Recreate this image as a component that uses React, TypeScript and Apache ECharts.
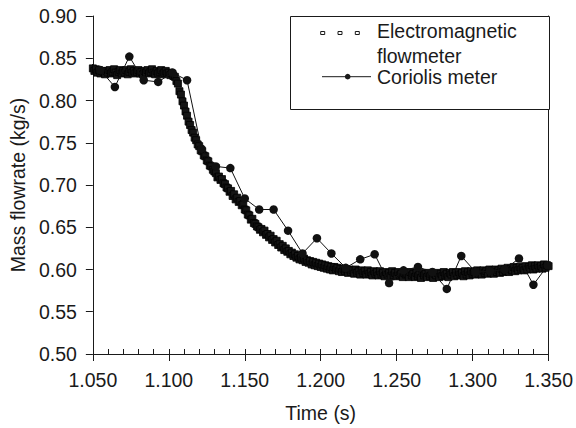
import React, { useEffect, useRef } from "react";
import * as echarts from "echarts";

// Electromagnetic flowmeter: sampled every emStep seconds from emStart
const emStart = 1.05;
const emStep = 0.001;
const emFlow = [
  0.838, 0.835, 0.837, 0.833, 0.836, 0.832, 0.835, 0.834, 0.831, 0.835,
  0.833, 0.836, 0.832, 0.834, 0.837, 0.833, 0.830, 0.834, 0.836, 0.832,
  0.835, 0.833, 0.836, 0.831, 0.834, 0.837, 0.833, 0.835, 0.832, 0.834,
  0.836, 0.832, 0.834, 0.831, 0.835, 0.833, 0.836, 0.832, 0.834, 0.837,
  0.833, 0.831, 0.835, 0.832, 0.834, 0.836, 0.831, 0.833, 0.835, 0.832,
  0.833, 0.830, 0.832, 0.829, 0.828, 0.823, 0.820, 0.811, 0.807, 0.799,
  0.794, 0.787, 0.782, 0.775, 0.771, 0.765, 0.762, 0.756, 0.753, 0.748,
  0.746, 0.741, 0.740, 0.735, 0.734, 0.729, 0.728, 0.723, 0.722, 0.718,
  0.716, 0.714, 0.709, 0.710, 0.706, 0.707, 0.702, 0.701, 0.697, 0.696,
  0.692, 0.693, 0.687, 0.689, 0.683, 0.685, 0.680, 0.681, 0.676, 0.677,
  0.671, 0.670, 0.665, 0.664, 0.659, 0.660, 0.655, 0.654, 0.651, 0.650,
  0.647, 0.648, 0.644, 0.646, 0.641, 0.642, 0.638, 0.640, 0.635, 0.636,
  0.632, 0.634, 0.629, 0.630, 0.626, 0.628, 0.623, 0.625, 0.621, 0.622,
  0.618, 0.620, 0.616, 0.618, 0.614, 0.616, 0.612, 0.614, 0.611, 0.613,
  0.609, 0.611, 0.608, 0.610, 0.606, 0.609, 0.605, 0.608, 0.604, 0.607,
  0.603, 0.606, 0.602, 0.605, 0.601, 0.604, 0.600, 0.603, 0.599, 0.603,
  0.600, 0.602, 0.598, 0.601, 0.597, 0.601, 0.598, 0.600, 0.596, 0.600,
  0.597, 0.599, 0.595, 0.600, 0.596, 0.598, 0.594, 0.599, 0.596, 0.598,
  0.594, 0.599, 0.595, 0.597, 0.593, 0.598, 0.595, 0.597, 0.593, 0.598,
  0.594, 0.596, 0.592, 0.597, 0.594, 0.596, 0.592, 0.598, 0.593, 0.596,
  0.592, 0.597, 0.593, 0.595, 0.591, 0.596, 0.594, 0.595, 0.591, 0.597,
  0.593, 0.595, 0.591, 0.596, 0.592, 0.594, 0.590, 0.596, 0.593, 0.595,
  0.591, 0.596, 0.592, 0.594, 0.590, 0.595, 0.593, 0.596, 0.591, 0.595,
  0.592, 0.597, 0.593, 0.595, 0.591, 0.596, 0.594, 0.597, 0.592, 0.596,
  0.593, 0.597, 0.594, 0.596, 0.592, 0.598, 0.594, 0.597, 0.593, 0.598,
  0.595, 0.597, 0.594, 0.599, 0.595, 0.598, 0.594, 0.599, 0.596, 0.598,
  0.595, 0.600, 0.596, 0.599, 0.595, 0.600, 0.597, 0.599, 0.596, 0.601,
  0.597, 0.600, 0.598, 0.602, 0.597, 0.601, 0.599, 0.603, 0.598, 0.602,
  0.599, 0.603, 0.600, 0.602, 0.599, 0.604, 0.600, 0.603, 0.601, 0.605,
  0.600, 0.604, 0.601, 0.605, 0.602, 0.604, 0.601, 0.606, 0.602, 0.605,
  0.604,
];

// Coriolis meter
const corTime = [
  1.0455, 1.055, 1.0645, 1.074, 1.0835, 1.093, 1.1025, 1.112, 1.1215, 1.131,
  1.1405, 1.15, 1.1595, 1.169, 1.1785, 1.188, 1.1975, 1.207, 1.2165, 1.226,
  1.2355, 1.245, 1.2545, 1.264, 1.2735, 1.283, 1.2925, 1.302, 1.3115, 1.321,
  1.3305, 1.34, 1.3495,
];
const corFlow = [
  0.848, 0.836, 0.816, 0.852, 0.824, 0.822, 0.833, 0.824, 0.743, 0.722,
  0.72, 0.684, 0.671, 0.671, 0.646, 0.619, 0.637, 0.619, 0.602, 0.612,
  0.618, 0.584, 0.599, 0.603, 0.597, 0.577, 0.616, 0.597, 0.598, 0.6,
  0.613, 0.582, 0.605,
];

const xMin = 1.05;
const xMax = 1.35;
const yMin = 0.5;
const yMax = 0.9;

const seriesNames = ["Electromagnetic flowmeter", "Coriolis meter"];
const xTitle = "Time (s)";
const yTitle = "Mass flowrate (kg/s)";

const FONT = "'Liberation Sans', Arial, Helvetica, sans-serif";
const INK = "#1a1a1a";

export default function App() {
  const ref = useRef<HTMLDivElement>(null);

  useEffect(() => {
    if (!ref.current) return;
    const chart = echarts.init(ref.current, undefined, { renderer: "svg" });

    const emData = emFlow.map((v, i) => [
      Math.round((emStart + i * emStep) * 10000) / 10000,
      v,
    ]);
    const corData = corTime.map((t, i) =>
      t < xMin
        ? { value: [t, corFlow[i]], symbol: "none" }
        : { value: [t, corFlow[i]] }
    );

    const labelStyle = { fontFamily: FONT, fontSize: 19.5, color: INK };

    chart.setOption({
      animation: false,
      backgroundColor: "#fff",
      grid: { left: 90, top: 16, right: 26, bottom: 74 },
      xAxis: [
        {
          type: "value",
          min: xMin,
          max: xMax,
          interval: 0.05,
          name: xTitle,
          nameLocation: "middle",
          nameGap: 49,
          nameTextStyle: labelStyle,
          axisLine: { show: true, lineStyle: { color: INK, width: 1 } },
          axisTick: { show: true, inside: false, length: 7, lineStyle: { color: INK } },
          axisLabel: {
            ...labelStyle,
            margin: 16,
            formatter: (v: number) => v.toFixed(3),
          },
          splitLine: { show: false },
        },
        {
          type: "value",
          min: xMin,
          max: xMax,
          interval: 0.01,
          position: "bottom",
          axisLine: { show: false },
          axisTick: { show: true, inside: true, length: 5, lineStyle: { color: INK } },
          axisLabel: { show: false },
          splitLine: { show: false },
        },
      ],
      yAxis: [
        {
          type: "value",
          min: yMin,
          max: yMax,
          interval: 0.05,
          name: yTitle,
          nameLocation: "middle",
          nameGap: 60,
          nameTextStyle: labelStyle,
          axisLine: { show: true, lineStyle: { color: INK, width: 1 } },
          axisTick: { show: true, inside: false, length: 7, lineStyle: { color: INK } },
          axisLabel: {
            ...labelStyle,
            margin: 16,
            formatter: (v: number) => v.toFixed(2),
          },
          splitLine: { show: false },
        },
        {
          type: "value",
          min: yMin,
          max: yMax,
          position: "right",
          axisLine: { show: true, lineStyle: { color: INK, width: 1 } },
          axisTick: { show: false },
          axisLabel: { show: false },
          splitLine: { show: false },
        },
      ],
      series: [
        {
          name: seriesNames[0],
          type: "scatter",
          data: emData,
          symbol: "rect",
          symbolSize: [7, 7],
          itemStyle: {
            color: "#151515",
            borderColor: "#000",
            borderWidth: 0.8,
            opacity: 1,
          },
          z: 2,
        },
        {
          name: seriesNames[1],
          type: "line",
          data: corData,
          clip: false,
          symbol: "circle",
          symbolSize: 8.5,
          showAllSymbol: true,
          lineStyle: { color: "#111", width: 1 },
          itemStyle: { color: "#111" },
          z: 3,
        },
      ],
      graphic: [
        {
          type: "rect",
          shape: { x: 290.5, y: 16.5, width: 259, height: 93 },
          style: { fill: "#fff", stroke: INK, lineWidth: 1 },
          z: 10,
        },
        ...[322.7, 340, 357.3].map((cx) => ({
          type: "rect",
          shape: { x: cx - 2, y: 31.5, width: 4, height: 3 },
          style: { fill: "#fff", stroke: INK, lineWidth: 1 },
          z: 11,
        })),
        {
          type: "text",
          x: 377,
          y: 31,
          style: {
            text: "Electromagnetic",
            fontFamily: FONT,
            fontSize: 19.5,
            fill: INK,
            verticalAlign: "middle",
            align: "left",
          },
          z: 11,
        },
        {
          type: "text",
          x: 377,
          y: 55.5,
          style: {
            text: "flowmeter",
            fontFamily: FONT,
            fontSize: 19.5,
            fill: INK,
            verticalAlign: "middle",
            align: "left",
          },
          z: 11,
        },
        {
          type: "line",
          shape: { x1: 322, y1: 76.7, x2: 371, y2: 76.7 },
          style: { stroke: INK, lineWidth: 1 },
          z: 11,
        },
        {
          type: "circle",
          shape: { cx: 347.7, cy: 76.7, r: 2.8 },
          style: { fill: INK },
          z: 12,
        },
        {
          type: "text",
          x: 377,
          y: 76.7,
          style: {
            text: seriesNames[1],
            fontFamily: FONT,
            fontSize: 19.5,
            fill: INK,
            verticalAlign: "middle",
            align: "left",
          },
          z: 11,
        },
      ],
    });

    return () => chart.dispose();
  }, []);

  return (
    <div
      ref={ref}
      style={{ position: "fixed", left: 0, top: 0, width: 576, height: 428 }}
    />
  );
}
